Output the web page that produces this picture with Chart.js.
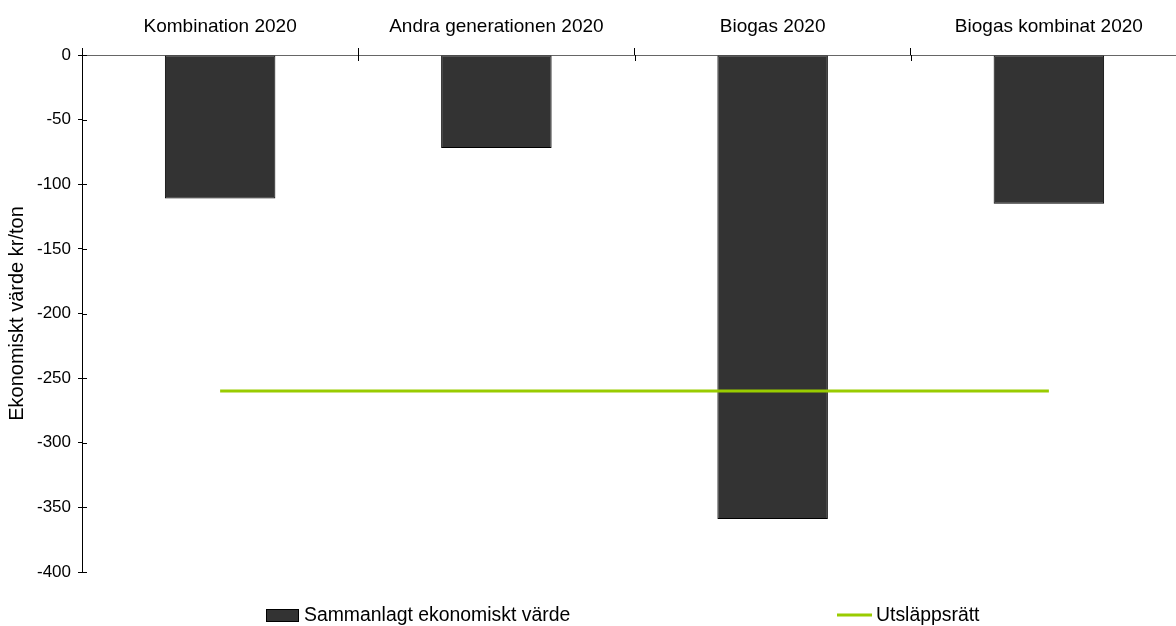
<!DOCTYPE html>
<html>
<head>
<meta charset="utf-8">
<script src="https://cdn.jsdelivr.net/npm/chart.js@4"></script>
<style>
html, body { margin: 0; padding: 0; background: #fff; overflow: hidden; }
canvas { display: block; }
</style>
</head>
<body>
<canvas id="chart" width="1187" height="626"></canvas>
<script>
// Ekonomiskt värde per alternativ, kr/ton
const categories = ["Kombination 2020", "Andra generationen 2020", "Biogas 2020", "Biogas kombinat 2020"];
const totalValue = [-111, -72, -359, -115];
const emissionRights = [-260, -260, -260, -260];
const yMin = -400;
const yMax = 0;
const yStep = 50;

const FONT = "'Liberation Sans', Arial, sans-serif";
const barFill = "#333333";
const lineColor = "#99cc00";

// legend drawn by hand so the two entries sit far apart
const legendItems = [
	{ label: "Sammanlagt ekonomiskt värde", kind: "box", color: barFill, x: 266 },
	{ label: "Utsläppsrätt", kind: "line", color: lineColor, x: 837 }
];

const crossTicks = {
	id: "crossTicks",
	afterDatasetsDraw(chart) {
		const ctx = chart.ctx;
		const x = chart.scales.x;
		const y = chart.scales.y;
		ctx.save();
		ctx.strokeStyle = "#000";
		ctx.lineWidth = 1;
		ctx.beginPath();
		// inner half of the y ticks
		y.ticks.forEach((t, i) => {
			const py = Math.round(y.getPixelForTick(i)) + 0.5;
			ctx.moveTo(x.left, py);
			ctx.lineTo(x.left + 5, py);
		});
		// inner half of the category separators
		for (let i = 1; i < categories.length; i++) {
			const px = Math.round((x.getPixelForTick(i - 1) + x.getPixelForTick(i)) / 2) + 0.5;
			ctx.moveTo(px, y.top);
			ctx.lineTo(px, y.top + 6);
		}
		ctx.stroke();
		ctx.restore();
	}
};

const bottomLegend = {
	id: "bottomLegend",
	afterDraw(chart) {
		const ctx = chart.ctx;
		const midY = 616;
		ctx.save();
		ctx.font = "19.4px " + FONT;
		ctx.textBaseline = "middle";
		ctx.fillStyle = "#000";
		legendItems.forEach(item => {
			if (item.kind === "box") {
				ctx.fillStyle = item.color;
				ctx.fillRect(item.x, midY - 7, 33, 13);
				ctx.strokeStyle = "#000";
				ctx.lineWidth = 1;
				ctx.strokeRect(item.x + 0.5, midY - 6.5, 32, 12);
				ctx.fillStyle = "#000";
				ctx.fillText(item.label, item.x + 38, midY);
			} else {
				ctx.strokeStyle = item.color;
				ctx.lineWidth = 3;
				ctx.beginPath();
				ctx.moveTo(item.x, midY - 1);
				ctx.lineTo(item.x + 35, midY - 1);
				ctx.stroke();
				ctx.fillStyle = "#000";
				ctx.fillText(item.label, item.x + 39, midY);
			}
		});
		ctx.restore();
	}
};

new Chart(document.getElementById("chart"), {
	type: "bar",
	data: {
		labels: categories,
		datasets: [
			{
				type: "bar",
				label: "Sammanlagt ekonomiskt värde",
				data: totalValue,
				backgroundColor: barFill,
				borderColor: "#000",
				borderWidth: 1,
				borderSkipped: false,
				categoryPercentage: 1,
				barPercentage: 0.4,
				order: 2
			},
			{
				type: "line",
				label: "Utsläppsrätt",
				data: emissionRights,
				borderColor: lineColor,
				borderWidth: 3,
				pointRadius: 0,
				fill: false,
				order: 1
			}
		]
	},
	options: {
		responsive: false,
		animation: false,
		layout: { padding: { top: 13, left: 2, right: 0, bottom: 54 } },
		plugins: {
			legend: { display: false },
			tooltip: { enabled: false }
		},
		scales: {
			x: {
				position: "top",
				offset: true,
				afterFit(scale) { scale.height = 42; },
				border: { display: true, color: "#666", width: 1 },
				grid: { offset: true, drawOnChartArea: false, drawTicks: true, tickLength: 7, color: "#000" },
				ticks: { color: "#000", padding: 10, maxRotation: 0, font: { family: FONT, size: 19 } }
			},
			y: {
				min: yMin,
				max: yMax,
				afterFit(scale) { scale.width = 80; },
				border: { display: true, color: "#000", width: 1 },
				grid: { drawOnChartArea: false, drawTicks: true, tickLength: 4, color: "#000" },
				ticks: { stepSize: yStep, color: "#000", padding: 7, font: { family: FONT, size: 17 } },
				title: {
					display: true,
					text: "Ekonomiskt värde kr/ton",
					color: "#000",
					padding: { top: 3, bottom: 0 },
					font: { family: FONT, size: 20 }
				}
			}
		}
	},
	plugins: [crossTicks, bottomLegend]
});
</script>
</body>
</html>
